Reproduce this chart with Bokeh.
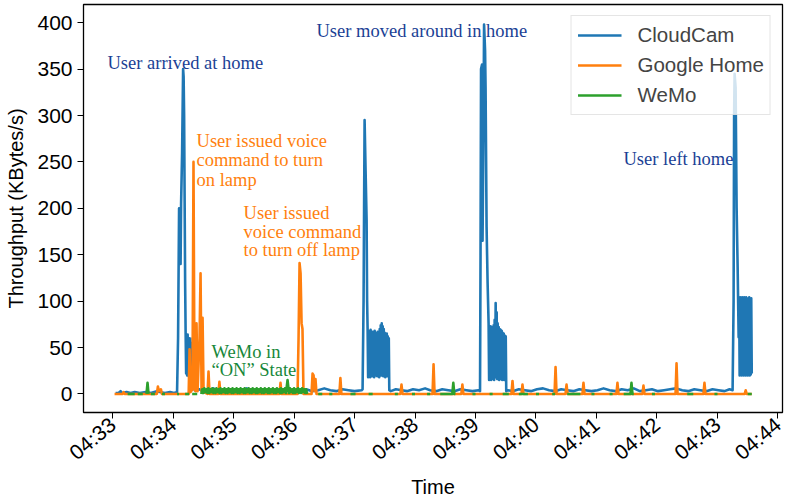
import math
import numpy as np
import pandas as pd
from bokeh.plotting import figure
from bokeh.models import (ColumnDataSource, FixedTicker, DatetimeTickFormatter,
                          Legend, LegendItem, Range1d)
from bokeh.core.properties import value
from bokeh.embed import file_html
from bokeh.resources import INLINE

# ---------------- data (seconds after 04:33:00, KBytes/s) ----------------
cloudcam_pts = [
    (3, 1), (6, 1), (8, 3), (9, 1), (14, 2), (18, 1), (22, 2), (27, 1), (33, 2), (38, 1),
    (44, 3), (47, 2), (52, 1), (57, 2), (61, 1), (64, 2),
    (65, 60), (66, 200), (67, 185), (67.5, 140), (68, 205), (69, 260), (70, 350), (70.5, 342),
    (71, 300), (72, 120), (72.5, 65),
    (73, 22), (73.5, 62), (74, 20), (74.5, 64), (75, 24), (75.5, 58), (76, 18), (76.5, 60),
    (77, 22), (77.5, 55), (78, 20), (78.5, 52), (79, 25), (79.5, 60), (80, 20), (80.5, 48),
    (81, 22), (81.5, 4),
    (83, 4), (86, 5), (90, 3), (95, 4), (100, 6), (104, 3), (110, 4), (116, 5), (121, 3),
    (127, 4), (133, 6), (138, 4), (144, 3), (150, 5), (156, 4), (162, 3), (168, 5), (174, 4),
    (180, 3), (186, 4), (192, 5), (198, 3), (204, 4), (210, 6), (216, 4), (222, 3), (228, 5),
    (234, 4), (240, 3), (247, 4),
    (248, 5), (249, 101), (249.5, 200), (250, 295), (251, 240), (252, 187), (252.5, 100), (253, 69),
    (253.5, 18), (254, 68), (254.5, 20), (255, 66), (255.5, 18), (256, 69), (256.5, 22), (257, 65),
    (257.5, 19), (258, 67), (258.5, 21), (259, 64), (259.5, 18), (260, 68), (260.5, 20), (261, 66),
    (261.5, 23), (262, 65), (262.5, 19), (263, 67), (263.5, 20), (264, 66), (264.5, 18), (265, 70),
    (265.5, 22), (266, 74), (266.5, 20), (267, 76), (267.5, 21), (268, 73), (268.5, 19), (269, 70),
    (269.5, 22), (270, 66), (270.5, 18), (271, 64), (271.5, 20), (272, 65), (272.5, 19), (273, 62),
    (273.5, 21), (274, 60), (274.5, 4),
    (276, 3), (281, 5), (287, 4), (292, 3), (298, 5), (304, 4), (310, 6), (315, 4), (321, 3),
    (327, 5), (333, 4), (339, 3), (345, 5), (351, 4), (357, 3), (363, 4),
    (364.5, 3), (365, 150), (365.5, 350), (366.5, 355), (367, 165), (368, 300), (368.5, 398),
    (369.5, 370), (370, 330), (371, 180), (372, 120), (373, 76),
    (373.5, 15), (374, 72), (374.5, 17), (375, 73), (375.5, 15), (376, 71), (376.5, 18), (377, 72),
    (377.5, 16), (378, 74), (378.5, 15), (379, 80), (379.5, 18), (380, 98), (380.5, 20), (381, 88),
    (381.5, 16), (382, 76), (382.5, 17), (383, 72), (383.5, 15), (384, 70), (384.5, 18), (385, 69),
    (385.5, 16), (386, 68), (386.5, 15), (387, 66), (387.5, 17), (388, 65), (388.5, 15), (389, 63),
    (389.5, 18), (390, 62), (390.5, 3),
    (392, 4), (397, 3), (403, 5), (409, 4), (415, 3), (421, 5), (427, 6), (433, 4), (439, 3),
    (445, 5), (451, 4), (457, 3), (463, 5), (469, 4), (475, 3), (481, 4), (487, 6), (493, 4),
    (499, 3), (505, 5), (511, 4), (517, 6), (523, 3), (529, 4), (535, 5), (541, 3), (547, 4),
    (553, 5), (559, 6), (565, 4), (571, 3), (577, 5), (583, 4), (589, 3), (595, 5), (601, 4),
    (607, 3), (612, 5), (615, 4),
    (616, 100), (616.5, 300), (617, 345), (618, 330), (619, 200), (620, 137), (621, 61), (621.5, 104),
    (622, 20), (622.5, 104), (623, 22), (623.5, 103), (624, 20), (624.5, 104), (625, 21), (625.5, 102),
    (626, 20), (626.5, 104), (627, 23), (627.5, 103), (628, 20), (628.5, 104), (629, 21), (629.5, 102),
    (630, 20), (630.5, 103), (631, 22), (631.5, 104), (632, 20), (632.5, 102), (633, 21), (633.5, 103),
    (634, 22),
]

googlehome_pts = [
    (2, 0), (10, 0), (11, 2), (12, 0), (44, 0), (45, 8), (46, 3), (48, 5), (49, 0),
    (75.5, 0), (76.4, 48), (77.4, 2), (79.3, 5), (80.3, 250), (81.3, 5), (82.3, 3), (83.3, 76),
    (84.3, 3), (86.3, 60), (87.3, 130), (88.3, 3), (89.3, 82), (90.3, 2), (94.2, 0), (95.2, 24),
    (96.2, 0), (105, 0), (106, 13), (107, 0), (165.6, 0), (166.6, 12), (167.6, 0),
    (183.5, 0), (184.5, 60), (185.5, 141), (186.5, 130), (187.5, 76), (188.4, 70), (189.4, 0),
    (197.4, 0), (198.4, 22), (199.4, 20), (200.3, 3), (201.3, 16), (202.3, 0),
    (225, 0), (226, 17), (227, 0), (285.6, 0), (286.6, 10), (287.6, 0),
    (317.4, 0), (318.4, 32), (319.4, 0), (346, 0), (347, 10), (348, 0),
    (395.7, 0), (396.7, 14), (397.7, 0), (405.6, 0), (406.6, 10), (407.6, 0),
    (438.4, 0), (439.4, 29), (440.4, 0), (449.3, 0), (450.3, 10), (451.3, 0),
    (466.1, 0), (467.1, 12), (468.1, 0), (499.8, 0), (500.8, 12), (501.8, 0),
    (525.6, 0), (526.6, 9), (527.6, 0), (558.4, 0), (559.4, 33), (560.4, 0),
    (586.1, 0), (587.1, 12), (588.1, 0), (627, 0), (628, 4), (629, 0), (634, 0),
]

# None marks a gap in the WeMo trace
wemo_pts = [
    (15, 0), (22, 0), (22, None), (25, 0), (30, 0), (30, None),
    (33.7, 0), (34.7, 12), (35.7, 0), (36, None), (38, 0), (42, 0), (42, None),
    (49, 0), (52, 0), (52, None), (64, 0), (66, 0), (66, None), (72, 0), (76, 0), (76, None),
    (79, 0), (84, 0), (84, None),
    (88, 0), (89, 5), (90, 1), (91, 6), (92, 2), (93, 5), (94, 1), (95, 6), (96, 1), (97, 5),
    (98, 2), (99, 6), (100, 1), (101, 5), (102, 1), (103, 6), (104, 2), (105, 5), (106, 1),
    (107, 6), (108, 1), (109, 5), (110, 2), (111, 6), (112, 1), (113, 5), (114, 1), (115, 6),
    (116, 2), (117, 5), (118, 1), (119, 6), (120, 1), (121, 5), (122, 2), (123, 6), (124, 1),
    (125, 5), (126, 1), (127, 6), (128, 2), (129, 5), (130, 1), (131, 6), (132, 1), (133, 5),
    (134, 2), (135, 6), (136, 1), (137, 5), (138, 1), (139, 6), (140, 2), (141, 5), (142, 1),
    (143, 6), (144, 1), (145, 5), (146, 2), (147, 6), (148, 1), (149, 5), (150, 1), (151, 6),
    (152, 2), (153, 5), (154, 1), (155, 6), (156, 1), (157, 5), (158, 2), (159, 6), (160, 1),
    (161, 5), (162, 1), (163, 6), (164, 2), (165, 5), (166, 1), (167, 6), (168, 1), (169, 5),
    (170, 2), (171, 6), (172, 1), (172.6, 6), (173.6, 15), (174.6, 5), (175, 1), (176, 6),
    (177, 2), (178, 5), (179, 1), (180, 6), (181, 1), (182, 5), (183, 2), (184, 6), (185, 1),
    (186, 5), (187, 1), (188, 6), (189, 2), (190, 5), (191, 1), (192, 5), (193, 0), (193, None),
    (204, 0), (208, 0), (208, None), (215, 0), (218, 0), (218, None), (236, 0), (241, 0), (241, None),
    (254, 0), (258, 0), (258, None), (280, 0), (283, 0), (283, None), (297, 0), (300, 0), (300, None),
    (312, 0), (315, 0), (315, None), (325, 0), (337, 0), (338, 12), (339, 0), (340, 0), (340, None),
    (357, 0), (360, 0), (360, None), (374, 0), (377, 0), (377, None), (387, 0), (393, 0), (393, None),
    (403, 0), (412, 0), (412, None), (420, 0), (423, 0), (423, None), (436, 0), (439, 0), (439, None),
    (451, 0), (464, 0), (464, None), (475, 0), (478, 0), (478, None), (493, 0), (496, 0), (496, None),
    (507, 0), (513.7, 0), (514.7, 12), (515.7, 0), (517, 0), (517, None), (535, 0), (538, 0),
    (538, None), (570, 0), (576, 0), (576, None), (597, 0), (600, 0), (600, None), (630, 0), (634, 0),
]

series_names = ["CloudCam", "Google Home", "WeMo"]
series_colors = ["#1f77b4", "#ff7f0e", "#2ca02c"]

y_ticks = [0, 50, 100, 150, 200, 250, 300, 350, 400]
x_tick_labels = ["04:33", "04:34", "04:35", "04:36", "04:37", "04:38", "04:39",
                 "04:40", "04:41", "04:42", "04:43", "04:44"]

# annotations: (seconds, KBytes/s, text, colour)
notes = [
    (-5, 357, "User arrived at home", "#1b3f95"),
    (202.3, 391, "User moved around in home", "#1b3f95"),
    (506.8, 253, "User left home", "#1b3f95"),
    (83.3, 273, "User issued voice", "#ff7f0e"),
    (83.3, 252, "command to turn", "#ff7f0e"),
    (83.3, 231, "on lamp", "#ff7f0e"),
    (130, 195, "User issued", "#ff7f0e"),
    (130, 174, "voice command", "#ff7f0e"),
    (130, 155, "to turn off lamp", "#ff7f0e"),
    (98.2, 45, "WeMo in", "#17873a"),
    (98.2, 26, "\u201cON\u201d State", "#17873a"),
]

DAY = "2018-01-01 "
START = pd.Timestamp(DAY + "04:33:00")


def to_time(secs):
    return [START + pd.Timedelta(seconds=float(s)) for s in secs]


def src(pts):
    t = [p[0] for p in pts]
    v = [np.nan if p[1] is None else p[1] for p in pts]
    return ColumnDataSource(dict(x=to_time(t), y=v))


p = figure(width=787, height=500, x_axis_type="datetime", output_backend="svg",
           toolbar_location=None,
           x_range=Range1d(START - pd.Timedelta(seconds=28.8), START + pd.Timedelta(seconds=664.5)),
           y_range=Range1d(-20, 419.6),
           min_border_left=83, min_border_right=5, min_border_top=4, min_border_bottom=87)

p.xgrid.visible = False
p.ygrid.visible = False
p.outline_line_color = "black"
p.outline_line_alpha = 1
p.outline_line_width = 1.3
p.background_fill_color = "white"
p.border_fill_color = "white"

renderers = []
for pts, c in zip([cloudcam_pts, googlehome_pts, wemo_pts], series_colors):
    r = p.line("x", "y", source=src(pts), line_color=c, line_width=2.6, line_join="round")
    renderers.append(r)

nsrc = ColumnDataSource(dict(x=to_time([n[0] for n in notes]), y=[n[1] for n in notes],
                             text=[n[2] for n in notes], color=[n[3] for n in notes]))
p.text("x", "y", text="text", source=nsrc, text_color="color",
       text_font=value("Liberation Serif"), text_font_size="18.5px",
       text_baseline="middle", text_align="left")

# axes
tick_ms = [(pd.Timestamp(DAY + lbl) - pd.Timestamp("1970-01-01")).total_seconds() * 1000
           for lbl in x_tick_labels]
p.xaxis.ticker = FixedTicker(ticks=tick_ms)
fmt = "%H:%M"
p.xaxis.formatter = DatetimeTickFormatter(microseconds=fmt, milliseconds=fmt, seconds=fmt,
                                          minsec=fmt, minutes=fmt, hourmin=fmt, hours=fmt,
                                          days=fmt, months=fmt, years=fmt)
p.xaxis.major_label_orientation = math.radians(40)
p.yaxis.ticker = FixedTicker(ticks=y_ticks)

for ax in [p.xaxis[0], p.yaxis[0]]:
    ax.axis_line_color = "black"
    ax.major_tick_line_color = "black"
    ax.major_tick_out = 6
    ax.major_tick_in = 0
    ax.minor_tick_out = 0
    ax.minor_tick_in = 0
    ax.major_label_text_font = "Liberation Sans"
    ax.major_label_text_font_size = "21px"
    ax.major_label_text_color = "black"
    ax.major_label_standoff = 3
    ax.axis_label_text_font = "Liberation Sans"
    ax.axis_label_text_font_size = "20px"
    ax.axis_label_text_font_style = "normal"
    ax.axis_label_text_color = "black"

p.yaxis.major_label_standoff = 5
p.xaxis.axis_label = "Time"
p.yaxis.axis_label = "Throughput (KBytes/s)"
p.yaxis.axis_label_standoff = 7
p.xaxis.axis_label_standoff = 0

legend = Legend(items=[LegendItem(label=n, renderers=[r]) for n, r in zip(series_names, renderers)],
                location="top_right")
legend.margin = 11
legend.padding = 6
legend.spacing = 4
legend.label_height = 26
legend.glyph_height = 26
legend.glyph_width = 44
legend.label_standoff = 16
legend.label_text_font = "Liberation Sans"
legend.label_text_font_size = "20.5px"
legend.border_line_color = "#cccccc"
legend.border_line_width = 1
legend.background_fill_alpha = 0.8
p.add_layout(legend)

open("out.html", "w").write(file_html(p, INLINE))
